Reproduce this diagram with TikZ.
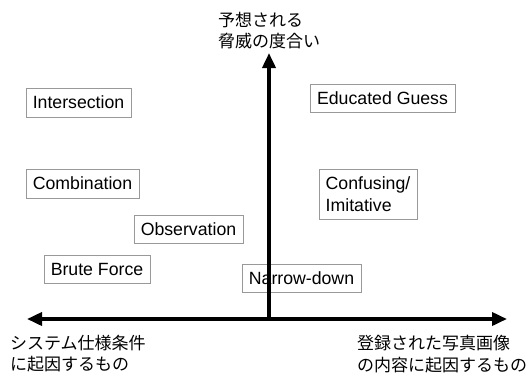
\documentclass[tikz,border=0pt]{standalone}
\usepackage{fontspec}
\setmainfont{Liberation Sans}
\newfontfamily\jp{Noto Sans CJK JP}
\usetikzlibrary{arrows.meta}
\tikzset{
  box/.style={draw=black!40, line width=0.9pt, fill=white, rectangle, inner sep=0pt,
    font=\fontsize{17.7}{21.5}\selectfont, text height=12.7pt, text depth=0pt, align=center},
  axis/.style={line width=3.6pt, black, >={Triangle[length=15pt,width=13pt]}},
  jplabel/.style={inner sep=0pt, align=left, anchor=west, font=\jp\fontsize{17}{21.5}\selectfont}
}
\begin{document}
\begin{tikzpicture}[x=1pt, y=-1pt]
\useasboundingbox (0,0) rectangle (529,372);
% boxes
\node[box, minimum width=105pt, minimum height=29pt] (inter) at (78.5,102.5) {Intersection};
\node[box, minimum width=145pt, minimum height=28pt] (edu) at (382.5,98) {Educated Guess};
\node[box, minimum width=113pt, minimum height=29pt] (comb) at (82.5,183.5) {Combination};
\node[box, minimum width=98pt, minimum height=50pt, align=left, text height=, text depth=] (conf) at (368,194) {Confusing/\\Imitative};
\node[box, minimum width=109pt, minimum height=28pt] (obs) at (188.5,229) {Observation};
\node[box, minimum width=106pt, minimum height=28pt] (brute) at (97,269) {Brute Force};
\node[box, minimum width=119pt, minimum height=28pt] (narrow) at (301.5,278) {Narrow-down};
% axes
\coordinate (L) at (27,319);
\coordinate (R) at (507,319);
\coordinate (O) at (269,319);
\coordinate (T) at (269,53);
\draw[axis, <->] (L) -- (R);
\draw[axis, ->] (O) -- (T);
% labels
\node[jplabel] (top) at (218,30.5) {予想される\\脅威の度合い};
\node[jplabel] (left) at (10,353.5) {システム仕様条件\\に起因するもの};
\node[jplabel] (right) at (357,354) {登録された写真画像\\の内容に起因するもの};
\end{tikzpicture}
\end{document}
